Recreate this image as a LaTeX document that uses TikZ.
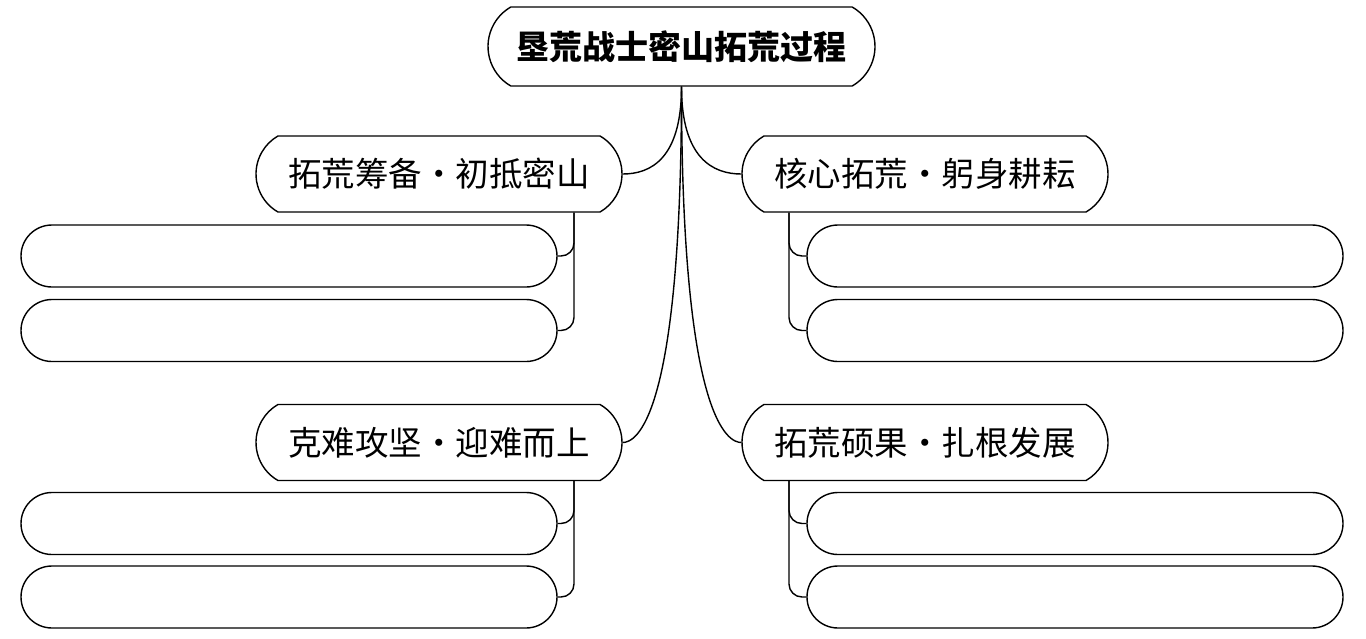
\documentclass[tikz,border=0pt]{standalone}
\usepackage{fontspec}
\newfontfamily\cjk{Noto Sans CJK SC}
\usetikzlibrary{shapes.misc}
\begin{document}
\begin{tikzpicture}[x=1pt,y=-1pt,
  line width=1.4pt,
  rootbox/.style={draw, rounded rectangle, rounded rectangle arc length=120, inner sep=0pt,
    minimum width=387pt, minimum height=79pt, font=\cjk\bfseries\fontsize{33}{36}\selectfont},
  branchbox/.style={draw, rounded rectangle, rounded rectangle arc length=120, inner sep=0pt,
    minimum width=366pt, minimum height=76pt, font=\cjk\fontsize{33.5}{36}\selectfont},
  leafbox/.style={draw, rounded rectangle, inner sep=0pt,
    minimum width=536pt, minimum height=62pt},
  leaflink/.style={rounded corners=13pt}
]
\useasboundingbox (0,0) rectangle (1366,638);

\node[rootbox] (root) at (681.5,46.5) {垦荒战士密山拓荒过程};

\node[branchbox] (tl) at (439,174) {拓荒筹备・初抵密山};
\node[branchbox] (tr) at (925,174) {核心拓荒・躬身耕耘};
\node[branchbox] (bl) at (439,442.5) {克难攻坚・迎难而上};
\node[branchbox] (br) at (925,442.5) {拓荒硕果・扎根发展};

\node[leafbox] (tl1) at (289,256) {};
\node[leafbox] (tl2) at (289,330.5) {};
\node[leafbox] (tr1) at (1075,256) {};
\node[leafbox] (tr2) at (1075,330.5) {};
\node[leafbox] (bl1) at (289,523.5) {};
\node[leafbox] (bl2) at (289,597) {};
\node[leafbox] (br1) at (1075,523.5) {};
\node[leafbox] (br2) at (1075,597) {};

% root to branches
\draw (root.south) .. controls +(0,72) and +(28,0) .. (tl.east);
\draw (root.south) .. controls +(0,72) and +(-28,0) .. (tr.west);
\draw (root.south) .. controls +(0,334) and +(13,0) .. (bl.east);
\draw (root.south) .. controls +(0,334) and +(-13,0) .. (br.west);

% branches to leaves
\draw[leaflink] ([xshift=135pt]tl.south) |- (tl1.east);
\draw[leaflink] ([xshift=135pt]tl.south) |- (tl2.east);
\draw[leaflink] ([xshift=-136pt]tr.south) |- (tr1.west);
\draw[leaflink] ([xshift=-136pt]tr.south) |- (tr2.west);
\draw[leaflink] ([xshift=135pt]bl.south) |- (bl1.east);
\draw[leaflink] ([xshift=135pt]bl.south) |- (bl2.east);
\draw[leaflink] ([xshift=-136pt]br.south) |- (br1.west);
\draw[leaflink] ([xshift=-136pt]br.south) |- (br2.west);
\end{tikzpicture}
\end{document}
